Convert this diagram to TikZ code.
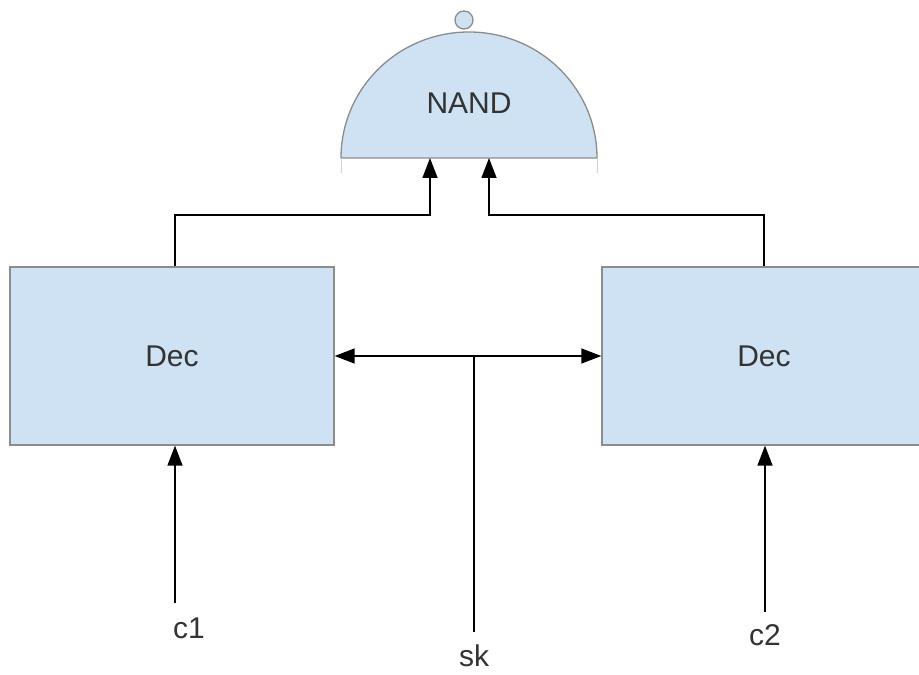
\documentclass[tikz,border=0pt]{standalone}
\usepackage{fontspec}
\setmainfont{Liberation Sans}
\usetikzlibrary{arrows.meta,positioning}
\definecolor{boxblue}{HTML}{CFE2F3}
\definecolor{boxline}{HTML}{8C8C8C}
\definecolor{txt}{HTML}{333333}

\tikzset{
  decbox/.style={draw=boxline,line width=1.3pt,fill=boxblue,minimum width=324pt,
    minimum height=178pt,inner sep=0pt,font=\fontsize{30}{34}\selectfont,text=txt},
  lbl/.style={font=\fontsize{30}{34}\selectfont,text=txt,inner sep=0pt},
  wire/.style={line width=1.4pt},
  arr/.style={wire,-{Triangle[length=20pt,width=15pt]}},
}

\begin{document}
\begin{tikzpicture}[x=1pt,y=1pt]
\useasboundingbox (0,0) rectangle (919,675);
% the two decryption boxes
\node[decbox] (decL) at (172,319) {Dec};
\node[decbox] (decR) at (764,319) {Dec};
% nand gate: half disc with the small bubble on top
\draw[boxline,line width=1.3pt,fill=boxblue] (341,517) arc (180:0:128 and 126) -- cycle;
\draw[boxline,line width=1.3pt,fill=boxblue] (464,655) circle (9);
\draw[boxline!40,line width=1pt] (341,517)--(341,502) (597,517)--(597,502);
\node[lbl] (nand) at (469,572) {NAND};
\coordinate (nandinL) at (430,517);
\coordinate (nandinR) at (489,517);
% inputs
\node[lbl] (c1) at (189,47) {c1};
\node[lbl] (sk) at (474,19) {sk};
\node[lbl] (c2) at (765,40) {c2};
\coordinate (c1end) at (175,72);
\coordinate (c2end) at (765,63);
\coordinate (skend) at (474,43);
\coordinate (skjoin) at (474,319);
\draw[arr] (c1end) -- (c1end |- decL.south);
\draw[arr] (c2end) -- (c2end |- decR.south);
\draw[wire] (skend) -- (skjoin);
\draw[arr] (skjoin) -- (decL.east);
\draw[arr] (skjoin) -- (decR.west);
% outputs into the gate
\draw[arr] (175,409) |- (430,460) -- (nandinL);
\draw[arr] (decR.north) |- (489,460) -- (nandinR);
\end{tikzpicture}
\end{document}
